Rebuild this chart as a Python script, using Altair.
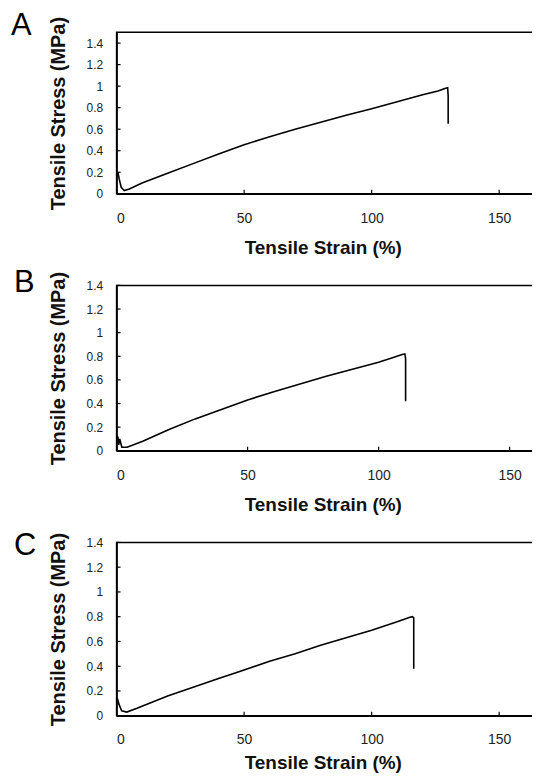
import altair as alt
import pandas as pd

# ---- data ----
strain_a = [0.5, 1.0, 1.8, 3.0, 5, 10, 20, 30, 40, 50, 60, 70, 80, 90, 100, 110, 120, 126, 129, 129.8, 130.0, 130.0]
stress_a = [0.20, 0.14, 0.06, 0.03, 0.045, 0.10, 0.19, 0.28, 0.37, 0.455, 0.53, 0.60, 0.665, 0.73, 0.79, 0.855, 0.92, 0.955, 0.98, 0.985, 0.91, 0.65]

strain_b = [0.2, 0.5, 0.8, 1.2, 2, 4, 10, 20, 30, 40, 50, 60, 70, 80, 90, 100, 105, 109, 110, 110.3, 110.3]
stress_b = [0.10, 0.12, 0.05, 0.10, 0.03, 0.03, 0.08, 0.18, 0.27, 0.35, 0.43, 0.50, 0.565, 0.63, 0.69, 0.75, 0.785, 0.815, 0.82, 0.78, 0.42]

strain_c = [0.3, 1.0, 2.0, 4, 8, 20, 30, 40, 50, 60, 70, 80, 90, 100, 110, 115, 116, 116.5, 116.5]
stress_c = [0.14, 0.09, 0.04, 0.03, 0.06, 0.16, 0.23, 0.30, 0.37, 0.44, 0.50, 0.57, 0.63, 0.69, 0.76, 0.795, 0.80, 0.79, 0.38]

panel_labels = ["A", "B", "C"]
x_ticks = [0, 50, 100, 150]
y_ticks = [0, 0.2, 0.4, 0.6, 0.8, 1, 1.2, 1.4]
x_title = "Tensile Strain (%)"
y_title = "Tensile Stress (MPa)"

FONT = "Liberation Sans"
W = 424


def panel(label, strain, stress, xmax, ymax, h, ldx, ldy, x_label_pad=18, x_title_pad=13):
    df = pd.DataFrame({"strain": strain, "stress": stress, "order": list(range(len(strain)))})
    xs = alt.Scale(domain=[0, xmax], nice=False, zero=False)
    ys = alt.Scale(domain=[0, ymax], nice=False, zero=False)
    x_axis = alt.Axis(values=x_ticks, title=x_title, ticks=False, grid=False,
                      labelFont=FONT, labelFontSize=14, labelColor="#222", labelPadding=x_label_pad,
                      titleFont=FONT, titleFontSize=19, titleFontWeight="bold", titleColor="#111",
                      titlePadding=x_title_pad, titleX=207, domainColor="black", domainWidth=1.5)
    y_axis = alt.Axis(values=y_ticks, format="~g", title=y_title, ticks=False, grid=False,
                      labelFont=FONT, labelFontSize=12, labelColor="#222", labelPadding=14,
                      titleFont=FONT, titleFontSize=20, titleFontWeight="bold", titleColor="#111",
                      titlePadding=18, domainColor="black", domainWidth=1.5)
    X = alt.X("strain:Q", scale=xs, axis=x_axis)
    Y = alt.Y("stress:Q", scale=ys, axis=y_axis)
    line = alt.Chart(df).mark_line(color="black", strokeWidth=1.6, clip=True).encode(
        x=X, y=Y, order="order:Q")
    yt = alt.Chart(pd.DataFrame({"stress": y_ticks})).mark_rule(color="black", strokeWidth=1.2).encode(
        y=Y, x=alt.value(0), x2=alt.value(4))
    xt = alt.Chart(pd.DataFrame({"strain": x_ticks})).mark_rule(color="black", strokeWidth=1.2).encode(
        x=X, y=alt.value(h), y2=alt.value(h - 4))
    letter = alt.Chart(pd.DataFrame({"t": [label]})).mark_text(
        fontSize=31, align="left", baseline="alphabetic", font=FONT, color="black").encode(
        text="t:N", x=alt.value(ldx), y=alt.value(ldy))
    return alt.layer(line, yt, xt, letter).properties(width=W, height=h)


pa = panel(panel_labels[0], strain_a, stress_a, 165.6, 1.5, 162, -106, 3)
pb = panel(panel_labels[1], strain_b, stress_b, 161.2, 1.4, 166, -103, 7)
pc = panel(panel_labels[2], strain_c, stress_c, 165.6, 1.4, 174, -103, 13, x_label_pad=17, x_title_pad=7)

chart = alt.vconcat(pa, pb, pc, spacing=92, bounds="flush").configure_view(
    stroke="black", strokeWidth=1.5
).properties(padding={"left": 2, "top": 0, "right": -8, "bottom": -2}, background="white")

chart.save("out.html", embed_options={"renderer": "svg", "actions": False})
